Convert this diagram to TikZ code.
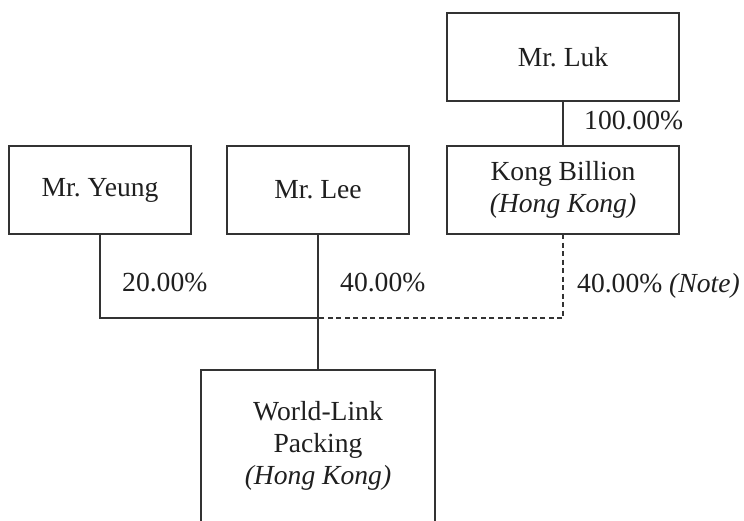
\documentclass[tikz,border=0pt]{standalone}
\usepackage{fontspec}
\setmainfont{Liberation Serif}
\frenchspacing
\begin{document}
\begin{tikzpicture}[x=1pt,y=-1pt,
  every node/.style={text=black!88, font=\fontsize{27.6}{32}\selectfont},
  entity/.style={draw=black!80, line width=1.1pt, inner sep=0pt, outer sep=0pt, align=center},
  link/.style={draw=black!80, line width=1.1pt},
  dlink/.style={draw=black!80, line width=1.1pt, dash pattern=on 5pt off 3.5pt},
  pct/.style={anchor=base west, inner sep=0pt}]
\useasboundingbox (0,0) rectangle (744,520);
\node[entity, minimum width=232pt, minimum height=88pt] (luk) at (563,57) {Mr. Luk};
\node[entity, minimum width=232pt, minimum height=88pt] (kong) at (563,190) {Kong Billion\\\textit{(Hong Kong)}};
\node[entity, minimum width=182pt, minimum height=88pt] (yeung) at (100,190) {Mr. Yeung};
\node[entity, minimum width=182pt, minimum height=88pt] (lee) at (318,190) {Mr. Lee};
\begin{scope}
\clip (0,0) rectangle (744,520);
\node[entity, minimum width=234pt, minimum height=152pt] (world) at (318,446) {World-Link\\Packing\\\textit{(Hong Kong)}};
\end{scope}
\coordinate (j) at (318,318);
\draw[link] (luk.south) -- (kong.north);
\draw[link] (yeung.south) |- (j);
\draw[link] (lee.south) -- (world.north);
\draw[dlink] (kong.south) |- (j);
\node[pct] (p1) at (584,129) {100.00\%};
\node[pct] (p2) at (122,291) {20.00\%};
\node[pct] (p3) at (340,291) {40.00\%};
\node[pct] (p4) at (577,292) {40.00\% \textit{(Note)}};
\end{tikzpicture}
\end{document}
